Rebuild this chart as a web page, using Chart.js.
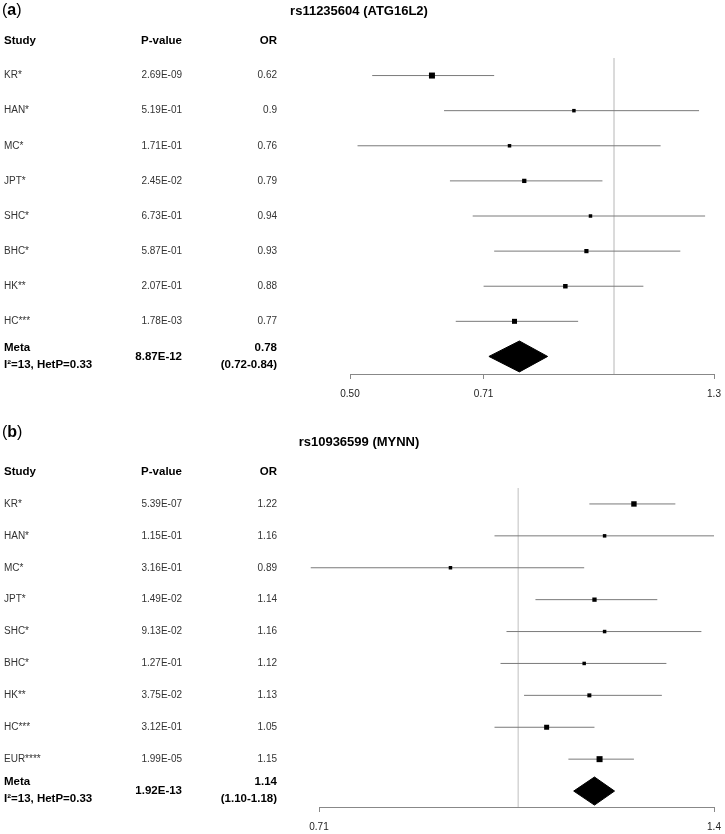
<!DOCTYPE html>
<html lang="en">

<head>
    <meta charset="UTF-8" />
    <title>Forest plots</title>
    <script src="https://cdn.jsdelivr.net/npm/chart.js"></script>
    <style>
        body { margin: 0; background: #fff; }
        .panel { position: relative; width: 725px; }
    </style>
</head>

<body>
    <div class="panel" style="height:415px"><canvas id="chartA"></canvas></div>
    <div class="panel" style="height:419px"><canvas id="chartB"></canvas></div>
    <script>
        // (a) rs11235604 (ATG16L2)
        const studiesA = ["KR*", "HAN*", "MC*", "JPT*", "SHC*", "BHC*", "HK**", "HC***"];
        const pValuesA = ["2.69E-09", "5.19E-01", "1.71E-01", "2.45E-02", "6.73E-01", "5.87E-01", "2.07E-01", "1.78E-03"];
        const orA = [0.62, 0.9, 0.76, 0.79, 0.94, 0.93, 0.88, 0.77];
        const lowA = [0.53, 0.64, 0.51, 0.65, 0.69, 0.73, 0.71, 0.66];
        const highA = [0.73, 1.25, 1.13, 0.97, 1.27, 1.19, 1.08, 0.91];
        const weightA = [6.0, 3.5, 3.5, 4.3, 3.5, 4.2, 4.5, 5.0];
        const metaA = [0.78, 0.72, 0.84]; // OR, lower, upper
        const metaPA = "8.87E-12";
        const metaHetA = "I\u00b2=13, HetP=0.33";
        const ticksA = [0.5, 0.71, 1.3];
        const tickLabelsA = ["0.50", "0.71", "1.3"];

        // (b) rs10936599 (MYNN)
        const studiesB = ["KR*", "HAN*", "MC*", "JPT*", "SHC*", "BHC*", "HK**", "HC***", "EUR****"];
        const pValuesB = ["5.39E-07", "1.15E-01", "3.16E-01", "1.49E-02", "9.13E-02", "1.27E-01", "3.75E-02", "3.12E-01", "1.99E-05"];
        const orB = [1.22, 1.16, 0.89, 1.14, 1.16, 1.12, 1.13, 1.05, 1.15];
        const lowB = [1.13, 0.96, 0.70, 1.03, 0.98, 0.97, 1.01, 0.96, 1.09];
        const highB = [1.31, 1.40, 1.12, 1.27, 1.37, 1.29, 1.28, 1.14, 1.22];
        const weightB = [5.4, 3.5, 3.5, 4.3, 3.5, 3.5, 4.0, 5.0, 6.0];
        const metaB = [1.14, 1.10, 1.18];
        const metaPB = "1.92E-13";
        const metaHetB = "I\u00b2=13, HetP=0.33";
        const ticksB = [0.71, 1.4];
        const tickLabelsB = ["0.71", "1.4"];

        const FONT = "'Liberation Sans', Arial, sans-serif";

        function forest(id, p) {
            const n = p.studies.length; // meta row index
            const datasets = [];
            // squares
            datasets.push({
                data: p.or.map((v, i) => ({ x: v, y: i })),
                pointStyle: "rect",
                pointRadius: p.weight.map((w) => w / Math.SQRT2),
                backgroundColor: "#000",
                borderWidth: 0,
            });
            // meta diamond
            const h = 0.44;
            datasets.push({
                data: [
                    { x: p.meta[1], y: n },
                    { x: p.meta[0], y: n - h },
                    { x: p.meta[2], y: n },
                    { x: p.meta[0], y: n + h },
                    { x: p.meta[1], y: n },
                ],
                showLine: true,
                fill: "shape",
                backgroundColor: "#000",
                borderColor: "#000",
                borderWidth: 1,
                pointRadius: 0,
            });
            // confidence intervals
            p.low.forEach((lo, i) => {
                datasets.push({
                    data: [{ x: lo, y: i }, { x: p.high[i], y: i }],
                    showLine: true,
                    borderColor: "#7a7a7a",
                    borderWidth: 1,
                    pointRadius: 0,
                    clip: false,
                });
            });
            // null line at OR = 1
            datasets.push({
                data: [{ x: 1, y: -0.5 }, { x: 1, y: n + 0.5 }],
                showLine: true,
                borderColor: "#d6d6d6",
                borderWidth: 1,
                pointRadius: 0,
            });

            const table = {
                id: "table",
                afterDraw(chart) {
                    const ctx = chart.ctx;
                    const ys = chart.scales.y;
                    ctx.save();
                    ctx.textBaseline = "middle";
                    // panel letter
                    ctx.fillStyle = "#000";
                    ctx.textAlign = "left";
                    ctx.font = "16px " + FONT;
                    ctx.fillText("(", 2, p.letterY);
                    let x = 2 + ctx.measureText("(").width;
                    ctx.font = "bold 16px " + FONT;
                    ctx.fillText(p.letter, x, p.letterY);
                    x += ctx.measureText(p.letter).width;
                    ctx.font = "16px " + FONT;
                    ctx.fillText(")", x, p.letterY);
                    // title
                    ctx.font = "bold 13px " + FONT;
                    ctx.textAlign = "center";
                    ctx.fillText(p.title, 359, p.titleY);
                    // header
                    const hy = ys.getPixelForValue(-1);
                    ctx.font = "bold 11.5px " + FONT;
                    ctx.textAlign = "left";
                    ctx.fillText("Study", 4, hy);
                    ctx.textAlign = "right";
                    ctx.fillText("P-value", 182, hy);
                    ctx.fillText("OR", 277, hy);
                    // rows
                    ctx.font = "10px " + FONT;
                    ctx.fillStyle = "#333";
                    p.studies.forEach((s, i) => {
                        const y = ys.getPixelForValue(i);
                        ctx.textAlign = "left";
                        ctx.fillText(s, 4, y);
                        ctx.textAlign = "right";
                        ctx.fillText(p.pValues[i], 182, y);
                        ctx.fillText(String(p.or[i]), 277, y);
                    });
                    // meta row
                    const my = ys.getPixelForValue(n);
                    ctx.fillStyle = "#000";
                    ctx.font = "bold 11.5px " + FONT;
                    ctx.textAlign = "left";
                    ctx.fillText("Meta", 4, my - 9);
                    ctx.fillText(p.het, 4, my + 8);
                    ctx.textAlign = "right";
                    ctx.fillText(p.metaP, 182, my);
                    ctx.fillText(p.meta[0].toFixed(2), 277, my - 9);
                    ctx.fillText("(" + p.meta[1].toFixed(2) + "-" + p.meta[2].toFixed(2) + ")", 277, my + 8);
                    ctx.restore();
                },
            };

            return new Chart(document.getElementById(id), {
                type: "scatter",
                data: { datasets },
                plugins: [table],
                options: {
                    responsive: true,
                    maintainAspectRatio: false,
                    animation: false,
                    events: [],
                    layout: { padding: p.padding },
                    plugins: { legend: { display: false }, tooltip: { enabled: false } },
                    scales: {
                        x: {
                            type: "logarithmic",
                            min: p.ticks[0],
                            max: p.ticks[p.ticks.length - 1],
                            afterBuildTicks: (s) => {
                                s.ticks = p.ticks.map((v) => ({ value: v }));
                            },
                            afterFit: (s) => {
                                s.height = 26;
                                s.paddingLeft = 0;
                                s.paddingRight = 0;
                            },
                            ticks: {
                                autoSkip: false,
                                maxRotation: 0,
                                padding: 9,
                                color: "#222",
                                font: { family: FONT, size: 10 },
                                callback: (v, i) => p.tickLabels[i],
                            },
                            grid: { drawOnChartArea: false, tickLength: 5, color: "#888" },
                            border: { color: "#888" },
                        },
                        y: { type: "linear", reverse: true, min: -0.5, max: n + 0.5, display: false },
                    },
                },
            });
        }

        forest("chartA", {
            studies: studiesA, pValues: pValuesA, or: orA, low: lowA, high: highA, weight: weightA,
            meta: metaA, metaP: metaPA, het: metaHetA, ticks: ticksA, tickLabels: tickLabelsA,
            letter: "a", letterY: 11, title: "rs11235604 (ATG16L2)", titleY: 11,
            padding: { left: 350, right: 11, top: 58, bottom: 15 },
        });
        forest("chartB", {
            studies: studiesB, pValues: pValuesB, or: orB, low: lowB, high: highB, weight: weightB,
            meta: metaB, metaP: metaPB, het: metaHetB, ticks: ticksB, tickLabels: tickLabelsB,
            letter: "b", letterY: 18, title: "rs10936599 (MYNN)", titleY: 27,
            padding: { left: 319, right: 11, top: 73, bottom: 1 },
        });
    </script>
</body>

</html>
